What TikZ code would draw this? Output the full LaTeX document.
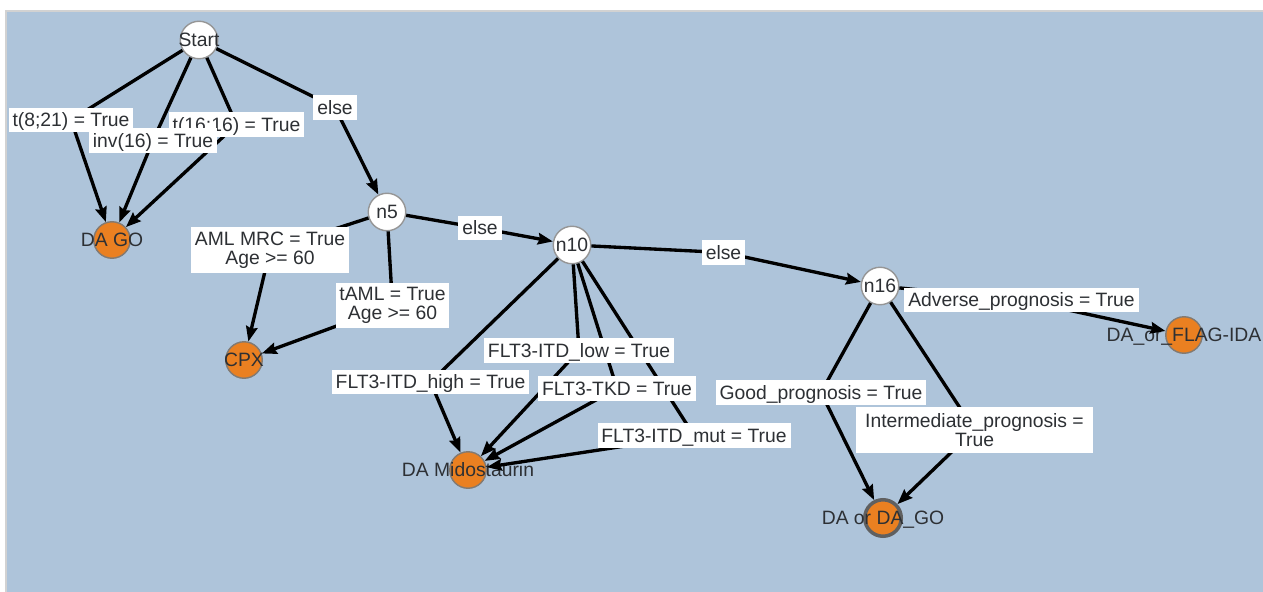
\documentclass[tikz,border=0pt]{standalone}
\usepackage{fontspec}
\setmainfont{Liberation Sans}
\usetikzlibrary{arrows.meta}
\definecolor{bg}{RGB}{174,196,218}
\definecolor{leaf}{RGB}{234,128,33}
\definecolor{leafborder}{RGB}{130,122,114}
\definecolor{decborder}{RGB}{150,150,150}
\definecolor{txt}{RGB}{45,48,52}
\begin{document}
\begin{tikzpicture}[x=0.02cm,y=-0.02cm,
  font=\fontsize{11}{10.8}\selectfont,
  dec/.style={circle, fill=white, draw=decborder, line width=0.8pt, minimum size=0.75cm, inner sep=0pt},
  leafnode/.style={circle, fill=leaf, draw=leafborder, line width=0.8pt, minimum size=0.73cm, inner sep=0pt},
  nodetext/.style={text=txt, inner sep=0pt, text height=9.35pt, text depth=1.45pt},
  edge/.style={line width=1.9pt, -{Stealth[length=8.5pt,width=6.5pt,inset=1pt]}},
  elabel/.style={fill=white, text=txt, inner xsep=2.2pt, inner ysep=1.7pt, text height=9.35pt, text depth=1.45pt},
  elabeltwo/.style={fill=white, text=txt, inner xsep=2.2pt, inner ysep=1pt, align=center, minimum height=0.92cm},
]
\useasboundingbox (0,0) rectangle (1263,591);
\fill[white] (-5,-5) rectangle (1270,600);
\fill[bg] (6,11) rectangle (1270,600);
\draw[gray!35, line width=0.6pt] (6,600) -- (6,11) -- (1270,11);

% nodes
\node[dec, label={[nodetext]center:Start}] (start) at (199,40) {};
\node[leafnode, label={[nodetext]center:DA GO}] (dago) at (112,240) {};
\node[dec, label={[nodetext]center:n5}] (n5) at (387,212) {};
\node[dec, label={[nodetext]center:n10}] (n10) at (572,245) {};
\node[dec, label={[nodetext]center:n16}] (n16) at (880,286) {};
\node[leafnode, label={[nodetext]center:CPX}] (cpx) at (244,360) {};
\node[leafnode, label={[nodetext]center:DA Midostaurin}] (mido) at (468,470) {};
\node[leafnode, draw=gray!75!black, line width=2pt, label={[nodetext]center:DA or DA\_GO}] (daor) at (883,518) {};
\node[leafnode, label={[nodetext]center:DA\_or\_FLAG-IDA}] (flag) at (1184,335) {};

% label positions
\coordinate (k1) at (71,120);
\coordinate (k2) at (153,140.5);
\coordinate (k3) at (236.5,124.5);
\coordinate (k4) at (335,107.5);
\coordinate (k5) at (270,250);
\coordinate (k6) at (392.5,305.5);
\coordinate (k7) at (480,228);
\coordinate (k8) at (723.5,252.5);
\coordinate (k9) at (430.5,382);
\coordinate (k10) at (579,350.5);
\coordinate (k11) at (617,388.5);
\coordinate (k12) at (694,435.5);
\coordinate (k13) at (1021.5,300);
\coordinate (k14) at (821,392.5);
\coordinate (k15) at (974.5,430);

% edges
\draw[edge] (start) -- (k1) -- (dago);
\draw[edge] (start) -- (k2) -- (dago);
\draw[edge] (start) -- (k3) -- (dago);
\draw[edge] (start) -- (k4) -- (n5);
\draw[edge] (n5) -- (k5) -- (cpx);
\draw[edge] (n5) -- (k6) -- (cpx);
\draw[edge] (n5) -- (k7) -- (n10);
\draw[edge] (n10) -- (k8) -- (n16);
\draw[edge] (n10) -- (k9) -- (mido);
\draw[edge] (n10) -- (k10) -- (mido);
\draw[edge] (n10) -- (k11) -- (mido);
\draw[edge] (n10) -- (k12) -- (mido);
\draw[edge] (n16) -- (k13) -- (flag);
\draw[edge] (n16) -- (k14) -- (daor);
\draw[edge] (n16) -- (k15) -- (daor);

% edge labels
\node[elabel] (l3) at (k3) {t(16;16) = True};
\node[elabel] (l2) at (k2) {inv(16) = True};
\node[elabel] (l1) at (k1) {t(8;21) = True};
\node[elabel] (l4) at (k4) {else};
\node[elabeltwo] (l5) at (k5) {AML MRC = True\\Age >= 60};
\node[elabeltwo] (l6) at (k6) {tAML = True\\Age >= 60};
\node[elabel] (l7) at (k7) {else};
\node[elabel] (l8) at (k8) {else};
\node[elabel] (l9) at (k9) {FLT3-ITD\_high = True};
\node[elabel] (l10) at (k10) {FLT3-ITD\_low = True};
\node[elabel] (l11) at (k11) {FLT3-TKD = True};
\node[elabel] (l12) at (k12) {FLT3-ITD\_mut = True};
\node[elabel] (l13) at (k13) {Adverse\_prognosis = True};
\node[elabel] (l14) at (k14) {Good\_prognosis = True};
\node[elabeltwo, minimum width=4.74cm] (l15) at (k15) {Intermediate\_prognosis =\\True};
\end{tikzpicture}
\end{document}
